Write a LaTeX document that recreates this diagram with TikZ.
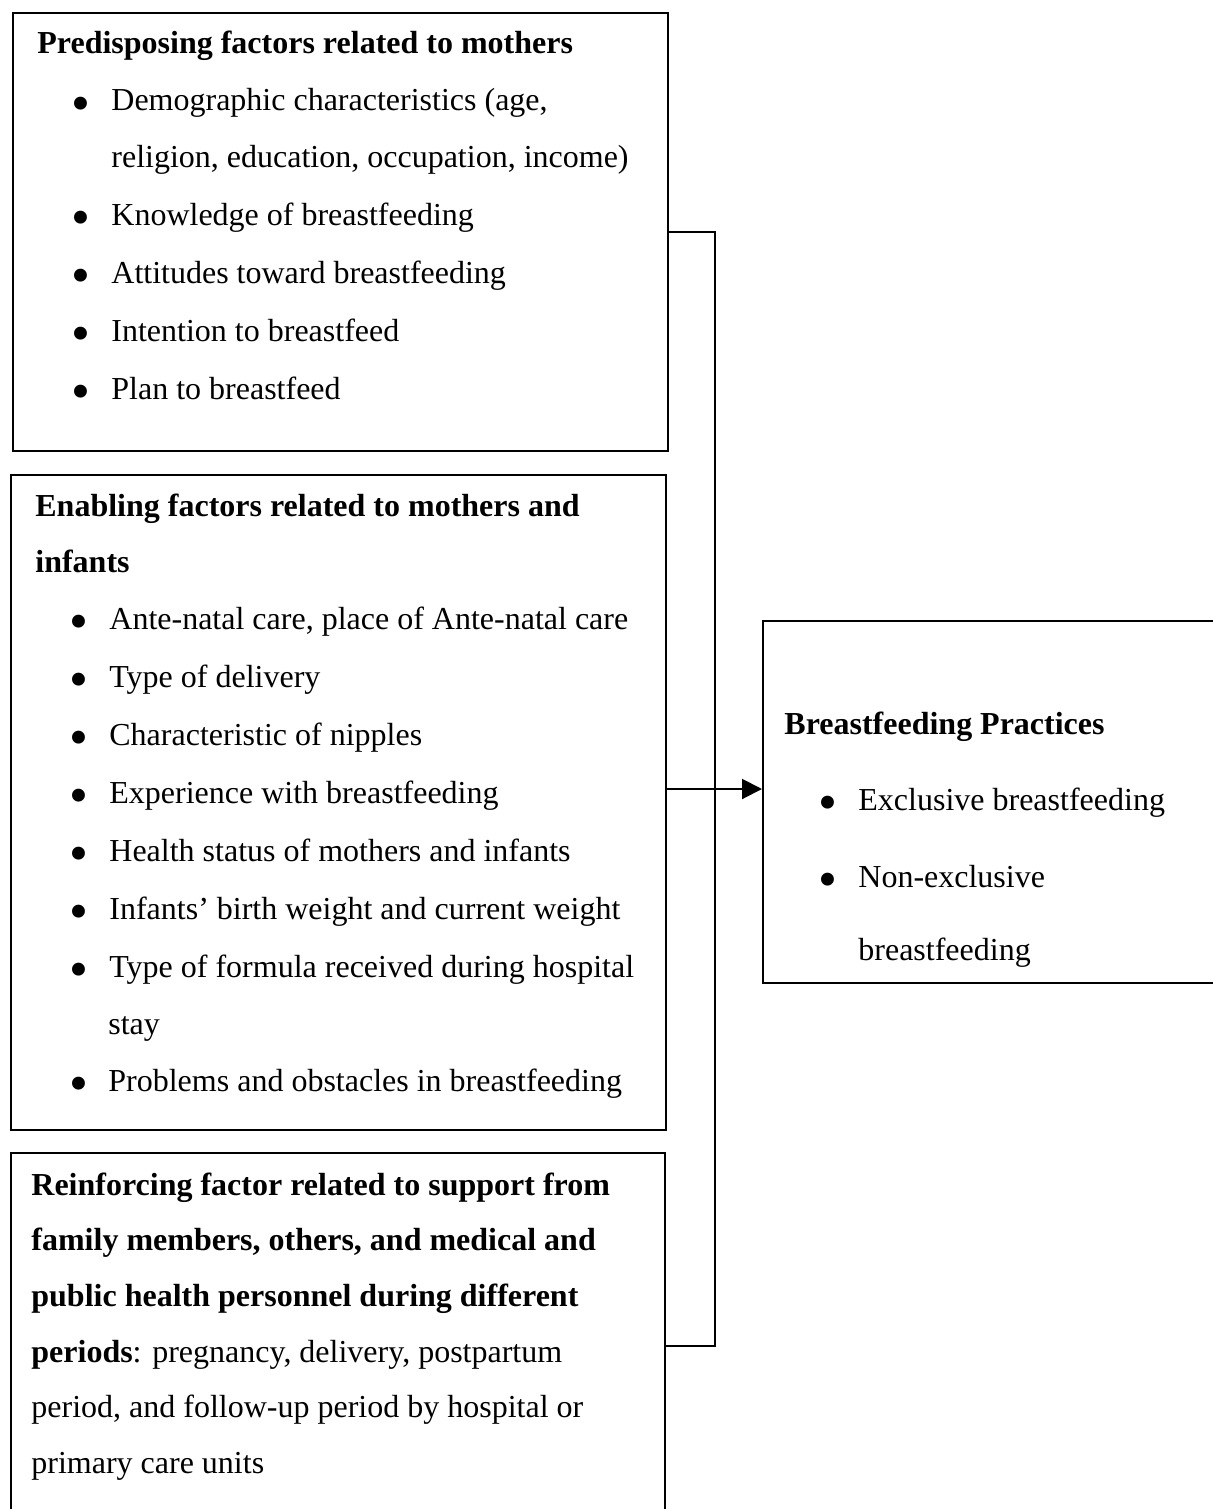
\documentclass[tikz,border=0pt]{standalone}
\usepackage{fontspec}
\setmainfont{Liberation Serif}
\usetikzlibrary{arrows.meta}
\begin{document}
\begin{tikzpicture}[x=0.5pt,y=-0.5pt,
  box/.style={draw, line width=1pt, anchor=north west, inner sep=0pt},
  txt/.style={anchor=base west, inner sep=0pt, font=\fontsize{16}{19}\selectfont},
  bld/.style={txt, font=\fontsize{16}{19}\selectfont\bfseries},
  bul/.style={anchor=center, inner sep=0pt, yshift=-3pt, font=\fontsize{27}{30}\selectfont},
  conn/.style={line width=1pt}]
\useasboundingbox (0,0) rectangle (1213,1509);
\fill[white] (0,0) rectangle (1213,1509);
% boxes
\node[box, minimum width=327.5pt, minimum height=219pt] (b1) at (12,12) {};
\node[box, minimum width=327.5pt, minimum height=327.5pt] (b2) at (10,474) {};
\node[box, minimum width=327pt, minimum height=189pt] (b3) at (10,1152) {};
\node[box, minimum width=231.5pt, minimum height=181pt] (bp) at (762,620) {};
% box 1 text
\node[bld] (t11) at (37,54) {Predisposing factors related to mothers};
\node[bul] (u12) at (81,103) {•};
\node[txt] (t12) at (111,111) {Demographic characteristics (age,};
\node[txt] (t13) at (111,168) {religion, education, occupation, income)};
\node[bul] (u14) at (81,217) {•};
\node[txt] (t14) at (111,225) {Knowledge of breastfeeding};
\node[bul] (u15) at (81,275) {•};
\node[txt] (t15) at (111,283) {Attitudes toward breastfeeding};
\node[bul] (u16) at (81,333) {•};
\node[txt] (t16) at (111,341) {Intention to breastfeed};
\node[bul] (u17) at (81,391) {•};
\node[txt] (t17) at (111,399) {Plan to breastfeed};
% box 2 text
\node[bld] (t21) at (35,516) {Enabling factors related to mothers and};
\node[bld] (t22) at (35,572) {infants};
\node[bul] (u23) at (79,621) {•};
\node[txt] (t23) at (109,629) {Ante-natal care, place of Ante-natal care};
\node[bul] (u24) at (79,679) {•};
\node[txt] (t24) at (109,687) {Type of delivery};
\node[bul] (u25) at (79,737) {•};
\node[txt] (t25) at (109,745) {Characteristic of nipples};
\node[bul] (u26) at (79,795) {•};
\node[txt] (t26) at (109,803) {Experience with breastfeeding};
\node[bul] (u27) at (79,853) {•};
\node[txt] (t27) at (109,861) {Health status of mothers and infants};
\node[bul] (u28) at (79,911) {•};
\node[txt] (t28) at (109,919) {Infants’ birth weight and current weight};
\node[bul] (u29) at (79,969) {•};
\node[txt] (t29) at (109,977) {Type of formula received during hospital};
\node[txt] (t2a) at (108,1034) {stay};
\node[bul] (u2b) at (79,1083) {•};
\node[txt] (t2b) at (108,1091) {Problems and obstacles in breastfeeding};
% box 3 text
\node[bld] (t31) at (31,1195) {Reinforcing factor related to support from};
\node[bld] (t32) at (31,1250) {family members, others, and medical and};
\node[bld] (t33) at (31,1306) {public health personnel during different};
\node[txt] (t34) at (31,1362) {\textbf{periods}: pregnancy, delivery, postpartum};
\node[txt] (t35) at (31,1417) {period, and follow-up period by hospital or};
\node[txt] (t36) at (31,1473) {primary care units};
% right box text
\node[bld] (t41) at (784,734) {Breastfeeding Practices};
\node[bul] (u42) at (828,802) {•};
\node[txt] (t42) at (858,810) {Exclusive breastfeeding};
\node[bul] (u43) at (828,879) {•};
\node[txt] (t43) at (858,887) {Non-exclusive};
\node[txt] (t44) at (858,960) {breastfeeding};
% connectors
\coordinate (jt) at (715,232);
\coordinate (jb) at (715,1346);
\coordinate (am) at (715,789);
\draw[conn] (b1.east |- jt) -- (jt) -- (jb) -- (b3.east |- jb);
\draw[conn, -{Triangle[length=10pt,width=10pt]}] (b2.east |- am) -- (bp.west |- am);
\end{tikzpicture}
\end{document}
